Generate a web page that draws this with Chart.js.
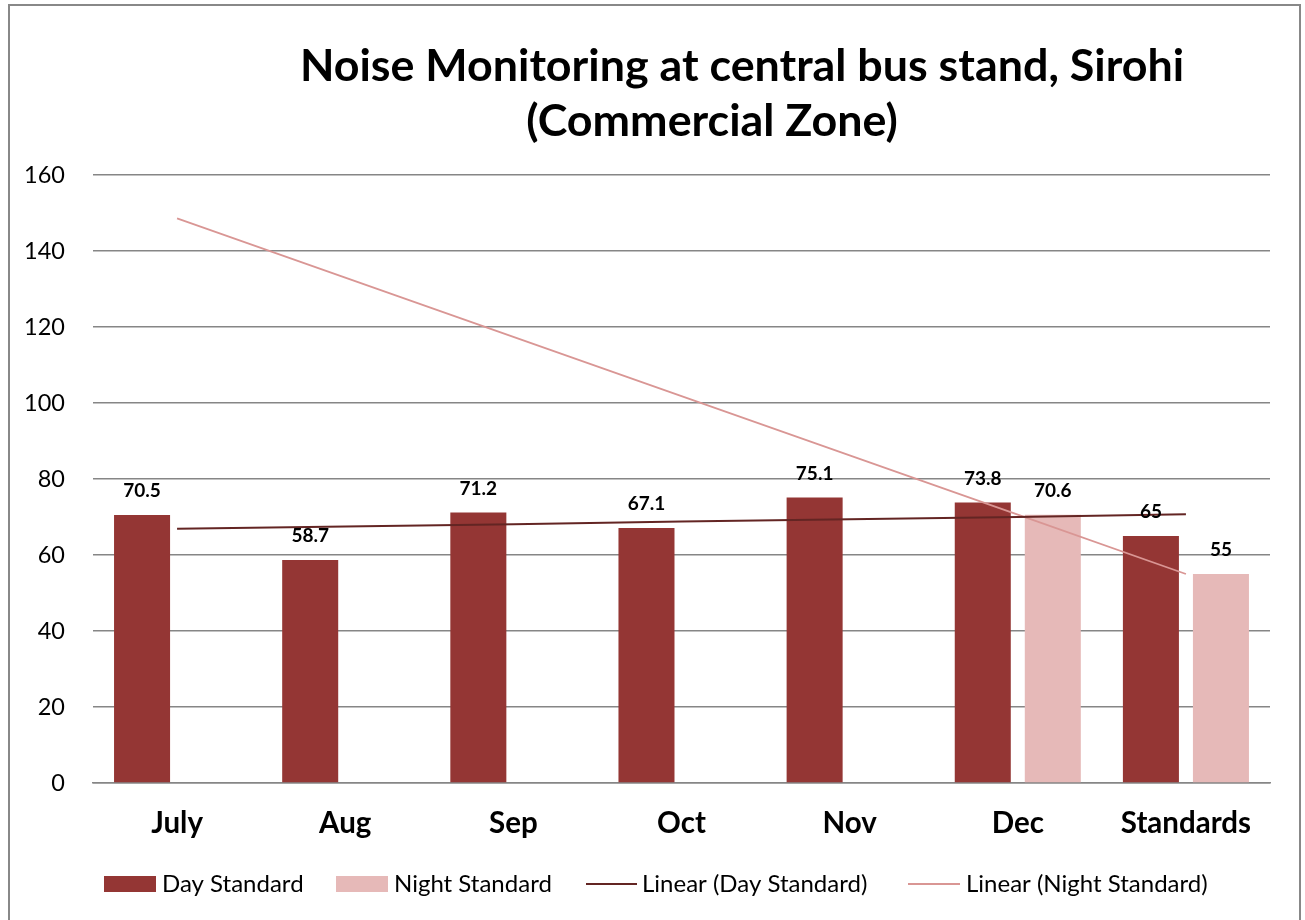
<!DOCTYPE html>
<html><head><meta charset="utf-8">
<script src="https://cdn.jsdelivr.net/npm/chart.js@4/dist/chart.umd.min.js"></script>
<style>html,body{margin:0;padding:0;background:#fff;}#wrap{width:1305px;height:920px;position:relative;}</style>
</head><body><div id="wrap"><canvas id="c" width="1305" height="920"></canvas></div>
<script>
const categories = ['July','Aug','Sep','Oct','Nov','Dec','Standards'];
const dayValues = [70.5, 58.7, 71.2, 67.1, 75.1, 73.8, 65];
const nightValues = [null, null, null, null, null, 70.6, 55];
const dayTrend = [66.9, 67.5, 68.1, 68.8, 69.4, 70.0, 70.7];
const nightTrend = [148.6, 133.0, 117.4, 101.8, 86.2, 70.6, 55.0];
const yTicks = [0, 20, 40, 60, 80, 100, 120, 140, 160];
const titleLines = ['Noise Monitoring at central bus stand, Sirohi', '(Commercial Zone)'];
const seriesNames = ['Day Standard', 'Night Standard', 'Linear (Day Standard)', 'Linear (Night Standard)'];

const DAY = '#943634', NIGHT = '#E6B9B8', DAYT = '#632523', NIGHTT = '#D99694';
const FONT = 'Lato, "Open Sans", sans-serif';

const decor = {
  id: 'decor',
  beforeDraw(chart) {
    const ctx = chart.ctx;
    ctx.save();
    ctx.fillStyle = '#fff';
    ctx.fillRect(0, 0, chart.width, chart.height);
    ctx.restore();
  },
  afterDraw(chart) {
    const ctx = chart.ctx;
    ctx.save();
    // outer border
    ctx.strokeStyle = '#888888';
    ctx.lineWidth = 2;
    ctx.beginPath();
    ctx.moveTo(9, 925); ctx.lineTo(9, 5); ctx.lineTo(1300, 5); ctx.lineTo(1300, 925);
    ctx.stroke();
    // title
    ctx.fillStyle = '#000';
    ctx.textAlign = 'center';
    ctx.textBaseline = 'middle';
    let size = 40;
    ctx.font = 'bold ' + size + 'px ' + FONT;
    const w = ctx.measureText(titleLines[0]).width;
    size = size * 884 / w;
    ctx.font = 'bold ' + size.toFixed(1) + 'px ' + FONT;
    ctx.fillText(titleLines[0], 742, 67);
    ctx.fillText(titleLines[1], 712, 122);
    // data labels
    ctx.font = 'bold 19px ' + FONT;
    ctx.textBaseline = 'middle';
    [0, 1].forEach(di => {
      const meta = chart.getDatasetMeta(di);
      const vals = chart.data.datasets[di].data;
      meta.data.forEach((el, i) => {
        if (vals[i] == null) return;
        ctx.fillText(String(vals[i]), el.x, el.y - 24);
      });
    });
    // legend
    ctx.textAlign = 'left';
    ctx.font = '24px ' + FONT;
    const ly = 884;
    ctx.fillStyle = DAY; ctx.fillRect(104, 876, 52, 16);
    ctx.fillStyle = NIGHT; ctx.fillRect(336, 876, 52, 16);
    ctx.strokeStyle = DAYT; ctx.lineWidth = 2;
    ctx.beginPath(); ctx.moveTo(586, ly); ctx.lineTo(637, ly); ctx.stroke();
    ctx.strokeStyle = NIGHTT; ctx.lineWidth = 2;
    ctx.beginPath(); ctx.moveTo(908, ly); ctx.lineTo(960, ly); ctx.stroke();
    ctx.fillStyle = '#000';
    ctx.fillText(seriesNames[0], 162, ly);
    ctx.fillText(seriesNames[1], 394, ly);
    ctx.fillText(seriesNames[2], 642, ly);
    ctx.fillText(seriesNames[3], 966, ly);
    ctx.restore();
  }
};

new Chart(document.getElementById('c'), {
  type: 'bar',
  data: {
    labels: categories,
    datasets: [
      { type: 'bar', label: seriesNames[0], data: dayValues, backgroundColor: DAY, categoryPercentage: 0.833, barPercentage: 0.8, order: 2 },
      { type: 'bar', label: seriesNames[1], data: nightValues, backgroundColor: NIGHT, categoryPercentage: 0.833, barPercentage: 0.8, order: 2 },
      { type: 'line', label: seriesNames[2], data: dayTrend, borderColor: DAYT, borderWidth: 2, pointRadius: 0, fill: false, order: 1 },
      { type: 'line', label: seriesNames[3], data: nightTrend, borderColor: NIGHTT, borderWidth: 1.8, pointRadius: 0, fill: false, order: 1 }
    ]
  },
  options: {
    responsive: false,
    animation: false,
    devicePixelRatio: 1,
    layout: { padding: { top: 175, left: 0, right: 35, bottom: 77 } },
    plugins: { legend: { display: false }, title: { display: false }, tooltip: { enabled: false } },
    scales: {
      x: {
        grid: { display: false, drawTicks: false },
        border: { display: true, color: '#868686', width: 1.5 },
        ticks: { color: '#000', font: { family: FONT, size: 29.5, weight: 'bold' }, padding: 23, maxRotation: 0, autoSkip: false },
        afterFit(s) { s.height = 60; }
      },
      y: {
        min: 0, max: 160,
        afterBuildTicks(s) { s.ticks = yTicks.map(v => ({ value: v })); },
        grid: { color: '#868686', lineWidth: 1.5, drawTicks: false },
        border: { display: false },
        ticks: { color: '#000', font: { family: FONT, size: 23.5 }, padding: 28 },
        afterFit(s) { s.width = 93; }
      }
    }
  },
  plugins: [decor]
});
</script></body></html>
